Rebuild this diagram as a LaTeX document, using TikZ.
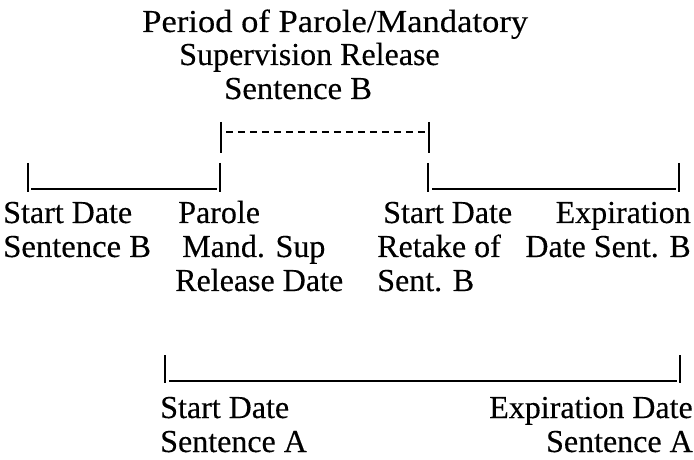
\documentclass[tikz,border=0pt]{standalone}
\usepackage{fontspec}
\setmainfont{Liberation Serif}[FakeBold=0.3]
\begin{document}
\begin{tikzpicture}[x=0.75pt,y=-0.75pt,
  lbl/.style={inner sep=0pt, font=\fontsize{24}{25}\selectfont},
  bar/.style={line width=1.5pt},
  rulel/.style={line width=1.9pt},
  dashrule/.style={line width=1.6pt, dash pattern=on 5.4pt off 3.59pt}]
\useasboundingbox (0,0) rectangle (694,460);
% title
\node[lbl, anchor=base west] (t1) at (142,32) {\scalebox{1.08}[1]{Period of Parole/Mandatory}};
\node[lbl, anchor=base west] (t2) at (179,65) {Supervision Release};
\node[lbl, anchor=base west] (t3) at (224,99) {\scalebox{1.02}[1]{Sentence B}};
% dashed period
\coordinate (d1t) at (221,122); \coordinate (d1b) at (221,153);
\coordinate (d2t) at (429,122); \coordinate (d2b) at (429,153);
\coordinate (d1m) at (226,132); \coordinate (d2m) at (425,132);
\draw[bar] (d1t) -- (d1b);
\draw[bar] (d2t) -- (d2b);
\draw[dashrule] (d1m) -- (d2m);
% timeline B first part
\coordinate (b1t) at (28,163); \coordinate (b1b) at (28,192);
\coordinate (b2t) at (220,163); \coordinate (b2b) at (220,192);
\coordinate (b1h) at (31,189); \coordinate (b2h) at (217,189);
\draw[bar] (b1t) -- (b1b);
\draw[bar] (b2t) -- (b2b);
\draw[rulel] (b1h) -- (b2h);
% timeline B second part
\coordinate (c1t) at (428,163); \coordinate (c1b) at (428,192);
\coordinate (c2t) at (679,163); \coordinate (c2b) at (679,192);
\coordinate (c1h) at (432,189); \coordinate (c2h) at (676,189);
\draw[bar] (c1t) -- (c1b);
\draw[bar] (c2t) -- (c2b);
\draw[rulel] (c1h) -- (c2h);
% timeline A
\coordinate (a1t) at (165,355); \coordinate (a1b) at (165,383);
\coordinate (a2t) at (680,355); \coordinate (a2b) at (680,383);
\coordinate (a1h) at (169,381); \coordinate (a2h) at (677,381);
\draw[bar] (a1t) -- (a1b);
\draw[bar] (a2t) -- (a2b);
\draw[rulel] (a1h) -- (a2h);
% row labels
\node[lbl, anchor=base west] (s1) at (3,223) {Start Date};
\node[lbl, anchor=base west] (s2) at (3,257) {\scalebox{1.02}[1]{Sentence B}};
\node[lbl, anchor=base west] (p1) at (178,223) {Parole};
\node[lbl, anchor=base west] (p2) at (182,257) {Mand. Sup};
\node[lbl, anchor=base west] (p3) at (175,291) {Release Date};
\node[lbl, anchor=base west] (r1) at (383,223) {Start Date};
\node[lbl, anchor=base west] (r2) at (377,257) {Retake of};
\node[lbl, anchor=base west] (r3) at (377,291) {Sent. B};
\node[lbl, anchor=base east] (e1) at (691,223) {Expiration};
\node[lbl, anchor=base east] (e2) at (691,257) {Date Sent. B};
% bottom labels
\node[lbl, anchor=base west] (sa1) at (160,418) {Start Date};
\node[lbl, anchor=base west] (sa2) at (160,452) {Sentence A};
\node[lbl, anchor=base east] (ea1) at (693,418) {Expiration Date};
\node[lbl, anchor=base east] (ea2) at (693,452) {Sentence A};
\end{tikzpicture}
\end{document}
